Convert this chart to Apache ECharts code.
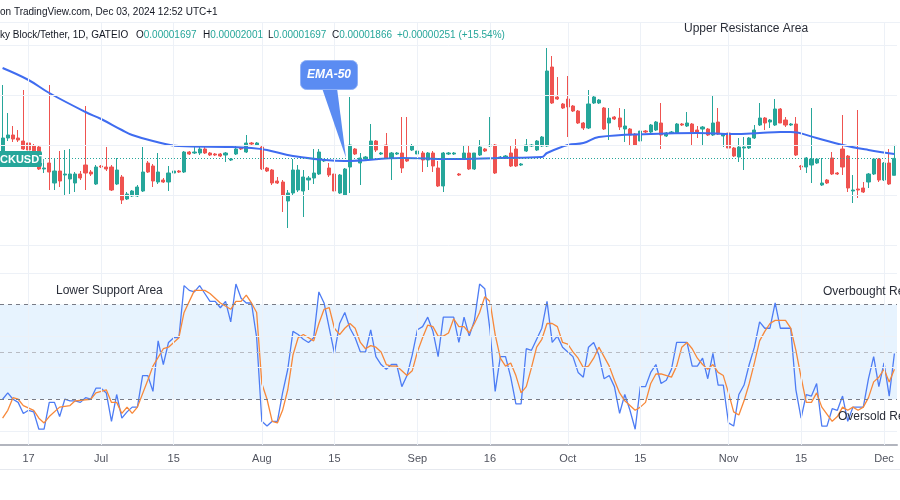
<!DOCTYPE html>
<html><head><meta charset="utf-8">
<script src="https://cdn.jsdelivr.net/npm/echarts@6/dist/echarts.min.js"></script>
<style>html,body{margin:0;padding:0;background:#fff}#c{width:900px;height:500px}</style>
</head><body><div id="c"></div>
<script>
// ---- data (prices in units of 1e-8 USDT) ----
const missingDays = ['2024-08-26', '2024-09-09'];
const tickIdx  = [5, 19, 33, 50, 64, 80, 94, 109, 123, 140, 154, 170];
const tickText = ['17', 'Jul', '15', 'Aug', '15', 'Sep', '16', 'Oct', '15', 'Nov', '15', 'Dec'];

const openP = [1900,2070,2100,2070,2040,2020,1990,1980,1760,1820,
 1620,1740,1700,1660,1620,1710,1800,1730,1610,1790,
 1780,1780,1610,1680,1460,1490,1490,1540,1820,1790,
 1630,1650,1630,1720,1740,1730,1930,1920,1920,1960,
 1920,1910,1910,1900,1850,1910,1970,1930,2020,2000,
 1980,1770,1750,1640,1630,1440,1520,1550,1540,1650,
 1670,1710,1840,1770,1710,1520,1500,1780,1960,1820,
 1860,1860,2040,1910,2000,1870,1910,1920,1860,1950,
 1910,1920,1850,1920,1770,1590,1910,1910,1710,1870,
 1920,1760,1900,1960,1990,2000,1870,1870,1920,1960,
 1800,1940,1990,1950,1990,1990,2780,2480,2410,2460,
 2390,2340,2220,2170,2420,2420,2370,2220,2280,2270,
 2160,2160,2110,2040,2140,2130,2150,2220,2090,2120,
 2120,2210,2190,2210,2150,2160,2160,2100,2230,2090,
 2120,1970,1880,1970,1970,2070,2200,2270,2230,2200,
 2360,2250,2200,2210,1790,1780,1800,1820,1600,1650,
 1870,1720,1960,1890,1540,1560,1570,1630,1710,1860,
 1650,1820,1697];
const closeP = [2070,2100,2060,2050,1960,1950,1940,1760,1770,1730,
 1740,1640,1710,1710,1710,1670,1720,1710,1780,1780,
 1760,1550,1750,1450,1510,1540,1580,1730,1730,1640,
 1730,1630,1720,1740,1730,1930,1910,1930,1960,1920,
 1900,1900,1890,1920,1860,1960,1960,2020,2010,2020,
 1760,1740,1620,1620,1500,1520,1750,1750,1680,1670,
 1720,1930,1850,1700,1540,1700,1760,2000,1910,1870,
 1880,2040,1950,1920,1870,1920,1920,1770,1840,1990,
 1940,1850,1920,1790,1590,1920,1920,1920,1700,1920,
 1760,1920,1980,1940,2000,1720,1880,1890,1790,1790,
 1810,2000,2000,2040,2080,2740,2420,2460,2370,2380,
 2340,2220,2170,2410,2480,2450,2160,2270,2260,2180,
 2190,2100,2000,2140,2130,2200,2230,2100,2120,2130,
 2210,2200,2220,2130,2130,2180,2100,2220,2110,2110,
 1970,1890,1980,1980,2070,2150,2270,2220,2250,2360,
 2220,2200,2210,1900,1780,1870,1860,1860,1620,1620,
 1710,1710,1780,1570,1550,1550,1530,1710,1860,1650,
 1820,1610,1866];
const lowP = [1870,2040,2030,2030,1950,1930,1920,1750,1720,1550,
 1550,1580,1500,1510,1530,1650,1550,1690,1600,1770,
 1740,1540,1600,1410,1450,1480,1480,1530,1720,1580,
 1610,1620,1540,1710,1720,1720,1900,1910,1900,1910,
 1890,1890,1880,1830,1840,1900,1950,1920,2000,1990,
 1750,1730,1600,1610,1330,1170,1500,1530,1280,1550,
 1610,1700,1830,1680,1530,1510,1490,1520,1900,1600,
 1850,1850,1930,1900,1860,1650,1900,1720,1830,1940,
 1000,1730,1780,1730,1580,1530,1900,1900,1690,1860,
 1750,1750,1890,1930,1980,1710,1860,1860,1780,1780,
 1790,1930,1980,1940,1980,1980,2410,2450,2360,2080,
 2330,2210,2150,2160,2410,2410,2150,2050,2250,2150,
 2030,2000,1990,2030,2120,2120,2140,1960,2080,2110,
 2110,2190,2180,2000,2070,2000,2090,2090,2100,1980,
 1960,1880,1830,1750,1960,2060,2190,2150,2170,2190,
 2220,2180,2190,1890,1750,1720,1620,1810,1590,1610,
 1700,1700,1700,1530,1420,1470,1520,1570,1700,1630,
 1640,1600,1697];
const highP = [2600,2320,2190,2150,2550,2050,2010,2000,1860,2600,
 1860,1940,1950,1960,1730,1740,2390,1750,1800,1800,
 1980,1800,1870,1700,1530,1550,1600,1980,1840,1810,
 1920,1670,1790,1790,1750,1940,1940,1980,1980,1990,
 1930,1920,1920,1930,1870,2000,1980,2100,2030,2030,
 2000,1780,1760,1680,1650,1550,1860,1800,1750,1690,
 1960,1960,1860,1820,1810,1710,1770,2480,1970,1920,
 1890,2210,2050,1930,2120,1930,1930,2280,2280,2010,
 2050,1940,1930,1940,1840,1930,1930,1930,1720,2000,
 2000,1920,2050,1970,2280,2010,1890,1900,2000,2060,
 1820,2060,2010,2050,2090,2970,2890,2680,2420,2690,
 2400,2350,2230,2550,2490,2460,2380,2370,2290,2370,
 2360,2170,2120,2150,2150,2210,2240,2420,2130,2140,
 2220,2220,2330,2220,2190,2190,2170,2490,2370,2120,
 2130,1980,2070,2080,2080,2200,2420,2280,2260,2460,
 2370,2280,2220,2280,1800,1880,2370,1870,1870,1660,
 1930,1730,2300,1900,1700,2350,1630,1720,1870,1870,
 1830,1960,2001];
const lastClose = 1866;

// EMA-50: [candle index, value]
const emaPts = [[0,2770],[5,2650],[9,2520],[16,2330],[19,2260],[23,2150],[25,2100],[29,2040],
 [34,1990],[44,1980],[48,1970],[51,1950],[56,1890],[66,1840],[77,1870],[86,1860],[96,1870],
 [104,1880],[105,1920],[109,2000],[112,2020],[115,2080],[125,2110],[134,2120],[141,2110],
 [146,2120],[150,2130],[152,2130],[157,2070],[162,2000],[167,1950],[172,1910]];

// Stochastic RSI %K (blue), one value per candle
const stochK = [20,24,20,18,11,13,12,1,1,18,18,9,20,19,19,18,21,20,27,27,
 24,6,23,8,12,15,15,35,35,25,57,42,56,59,59,92,89,88,92,87,
 82,82,78,82,69,93,84,81,81,59,6,3,6,6,24,39,63,61,58,56,
 59,88,81,65,49,68,75,65,59,50,50,64,47,42,39,42,42,28,35,48,
 64,66,72,63,47,72,72,72,56,72,60,70,93,90,64,25,47,47,34,17,
 17,52,51,58,65,82,56,60,53,50,47,37,34,53,56,48,33,35,28,11,
 23,13,1,28,28,37,42,30,32,39,56,56,56,41,41,46,33,49,29,29,
 5,3,23,29,42,53,69,65,65,81,65,65,65,26,8,23,22,30,3,3,
 14,13,22,6,15,15,15,33,47,28,43,22,49];
// Stochastic RSI %D (orange): [candle index, value]
const stochD = [[0,8],[1,13],[2,21],[3,20],[4,16],[6,13],[7,8],[8,5],[9,9],[11,15],[13,16],[14,19],
 [17,20],[18,24],[20,26],[21,18],[22,18],[23,11],[24,15],[25,11],[26,15],[28,32],[29,41],[31,52],
 [32,53],[34,59],[35,75],[37,89],[39,89],[40,87],[42,81],[44,77],[45,82],[46,82],[47,86],[48,81],
 [49,75],[50,30],[51,20],[52,6],[53,5],[54,13],[55,26],[56,48],[57,59],[58,61],[60,57],[61,68],
 [62,77],[63,78],[64,65],[65,61],[66,65],[67,68],[68,65],[69,56],[70,52],[71,54],[72,53],[73,50],
 [74,42],[75,41],[76,41],[77,38],[78,35],[79,38],[80,50],[81,59],[82,67],[83,66],[84,60],[85,60],
 [86,62],[87,71],[88,66],[89,66],[90,62],[91,68],[92,75],[93,85],[94,82],[95,61],[96,46],[97,41],
 [98,43],[99,35],[100,24],[101,28],[102,40],[103,53],[104,58],[105,68],[106,68],[107,66],[108,56],
 [109,55],[110,50],[111,46],[112,40],[113,41],[114,46],[115,53],[117,41],[118,32],[119,24],[120,19],
 [122,13],[123,15],[124,18],[125,30],[126,36],[127,36],[129,34],[130,41],[131,53],[132,56],[133,52],
 [134,46],[135,42],[136,39],[137,42],[138,37],[139,35],[140,24],[141,12],[142,10],[143,19],[144,30],
 [145,43],[146,57],[147,63],[148,68],[149,70],[150,70],[151,70],[152,65],[153,51],[154,34],[155,18],
 [156,18],[157,24],[158,15],[160,6],[161,9],[162,15],[163,13],[164,15],[165,13],[166,15],[167,21],
 [168,31],[169,34],[170,39],[171,31],[172,39]];

const priceGridVals = [1000, 1500, 2000, 2500, 3000];
const stochGridVals = [0, 40, 60, 100];
const stochLevels = [80, 50, 20];

// ---- build categories (daily, with data gaps) ----
const categories = [];
(function () {
  const d = new Date(Date.UTC(2024, 5, 12));
  while (categories.length < openP.length) {
    const s = d.toISOString().slice(0, 10);
    if (!missingDays.includes(s)) categories.push(s);
    d.setUTCDate(d.getUTCDate() + 1);
  }
})();
const candleData = openP.map((o, i) => [o, closeP[i], lowP[i], highP[i]]);
const kData = stochK.map((v, i) => [i, v]);

const GRID = '#edf1f7';
const UP = '#26a69a', DOWN = '#ef5350';
const FONT = '"Liberation Sans", Arial, sans-serif';
const HF = '10px ' + FONT;

const vLines = tickIdx.map(i => ({ xAxis: categories[i] }));

function legendPart(x, l, v) {
  return { type: 'text', z: 100, x: x, y: 35, style: { text: '{l|' + l + '}{v|' + v + '}',
    rich: { l: { fill: '#131722', font: HF }, v: { fill: UP, font: HF } }, textVerticalAlign: 'middle' } };
}

const chart = echarts.init(document.getElementById('c'), null, { renderer: 'canvas' });
chart.setOption({
  animation: false,
  backgroundColor: '#ffffff',
  grid: [
    { left: 0, right: 3, top: 22, height: 251 },
    { left: 0, right: 3, top: 273, height: 172 }
  ],
  xAxis: [
    { type: 'category', gridIndex: 0, data: categories, boundaryGap: true, show: false },
    { type: 'category', gridIndex: 1, data: categories, boundaryGap: true,
      axisLine: { show: true, onZero: false, lineStyle: { color: '#b2b5be', width: 2 } },
      axisTick: { show: false }, splitLine: { show: false },
      axisLabel: { show: true, color: '#50535e', fontSize: 11, fontFamily: FONT, margin: 8,
        interval: (idx) => tickIdx.includes(idx),
        formatter: (val, idx) => { const k = tickIdx.indexOf(idx); return k >= 0 ? tickText[k] : ''; } } }
  ],
  yAxis: [
    { type: 'value', gridIndex: 0, min: 720, max: 3230, show: false },
    { type: 'value', gridIndex: 1, min: -9, max: 100, show: false }
  ],
  series: [
    { type: 'line', xAxisIndex: 0, yAxisIndex: 0, data: [], z: 0, silent: true,
      markLine: { silent: true, symbol: ['none', 'none'], label: { show: false }, animation: false,
        lineStyle: { color: GRID, width: 1, type: 'solid' },
        data: vLines.concat(priceGridVals.map(v => ({ yAxis: v }))) } },
    { type: 'candlestick', xAxisIndex: 0, yAxisIndex: 0, data: candleData, barWidth: '70%', z: 2,
      itemStyle: { color: UP, color0: DOWN, borderColor: UP, borderColor0: DOWN, borderWidth: 1 },
      markLine: { silent: true, symbol: ['none', 'none'], label: { show: false }, animation: false,
        lineStyle: { color: UP, width: 1, type: [1, 2] },
        data: [{ yAxis: lastClose }] } },
    { type: 'line', name: 'EMA-50', xAxisIndex: 0, yAxisIndex: 0, data: emaPts, z: 3,
      smooth: 0.4, showSymbol: false, lineStyle: { color: '#3f6cf0', width: 2 } },
    { type: 'line', xAxisIndex: 1, yAxisIndex: 1, data: [], z: 0, silent: true,
      markArea: { silent: true, itemStyle: { color: 'rgba(33,150,243,0.11)' },
        data: [[{ yAxis: 20 }, { yAxis: 80 }]] } },
    { type: 'line', xAxisIndex: 1, yAxisIndex: 1, data: [], z: 1, silent: true,
      markLine: { silent: true, symbol: ['none', 'none'], label: { show: false }, animation: false,
        lineStyle: { color: GRID, width: 1, type: 'solid' },
        data: vLines.concat(stochGridVals.map(v => ({ yAxis: v })))
          .concat(stochLevels.map(v => ({ yAxis: v, lineStyle: { color: v === 50 ? '#b8bbc3' : '#787b86', width: 1, type: [4, 4] } }))) } },
    { type: 'line', name: '%K', xAxisIndex: 1, yAxisIndex: 1, data: kData, z: 3,
      showSymbol: false, lineStyle: { color: '#4d7cf4', width: 1.3 } },
    { type: 'line', name: '%D', xAxisIndex: 1, yAxisIndex: 1, data: stochD, z: 4,
      showSymbol: false, lineStyle: { color: '#f7883a', width: 1.3 } }
  ],
  graphic: [
    { type: 'line', z: 50, shape: { x1: 0, y1: 22.5, x2: 900, y2: 22.5 }, style: { stroke: GRID, lineWidth: 1 } },
    { type: 'line', z: 50, shape: { x1: 0, y1: 469.5, x2: 900, y2: 469.5 }, style: { stroke: '#e6e9ef', lineWidth: 1 } },
    { type: 'text', z: 100, x: 0, y: 12, style: { text: 'on TradingView.com, Dec 03, 2024 12:52 UTC+1', fill: '#131722', font: HF, textVerticalAlign: 'middle' } },
    { type: 'text', z: 100, x: 0, y: 35, style: { text: 'ky Block/Tether, 1D, GATEIO', fill: '#131722', font: HF, textVerticalAlign: 'middle' } },
    legendPart(136, 'O', '0.00001697'),
    legendPart(203, 'H', '0.00002001'),
    legendPart(268, 'L', '0.00001697'),
    legendPart(332, 'C', '0.00001866'),
    { type: 'text', z: 100, x: 397, y: 35, style: { text: '+0.00000251 (+15.54%)', fill: UP, font: HF, textVerticalAlign: 'middle' } },
    { type: 'text', z: 100, x: 684, y: 29, style: { text: 'Upper Resistance Area', fill: '#2a2e39', font: '12px ' + FONT, textVerticalAlign: 'middle' } },
    { type: 'text', z: 100, x: 56, y: 291, style: { text: 'Lower Support Area', fill: '#2a2e39', font: '12px ' + FONT, textVerticalAlign: 'middle' } },
    { type: 'text', z: 100, x: 823, y: 292, style: { text: 'Overbought Region', fill: '#2a2e39', font: '12px ' + FONT, textVerticalAlign: 'middle' } },
    { type: 'text', z: 100, x: 838, y: 417, style: { text: 'Oversold Region', fill: '#2a2e39', font: '12px ' + FONT, textVerticalAlign: 'middle' } },
    { type: 'rect', z: 100, shape: { x: -3, y: 151, width: 45, height: 16, r: 2 }, style: { fill: UP } },
    { type: 'text', z: 101, x: 0, y: 159.5, style: { text: 'CKUSDT', fill: '#ffffff', font: 'bold 11px ' + FONT, textVerticalAlign: 'middle' } },
    { type: 'polygon', z: 100, shape: { points: [[322, 88], [337, 88], [346, 158]] }, style: { fill: '#5b8cf2' } },
    { type: 'rect', z: 101, shape: { x: 300.5, y: 60.5, width: 57, height: 29, r: 6 }, style: { fill: '#5b8cf2', stroke: '#8fb1f7', lineWidth: 1 } },
    { type: 'text', z: 102, x: 329, y: 75, style: { text: 'EMA-50', fill: '#ffffff', font: 'italic bold 12px ' + FONT, textAlign: 'center', textVerticalAlign: 'middle' } }
  ]
});
</script>
</body></html>
